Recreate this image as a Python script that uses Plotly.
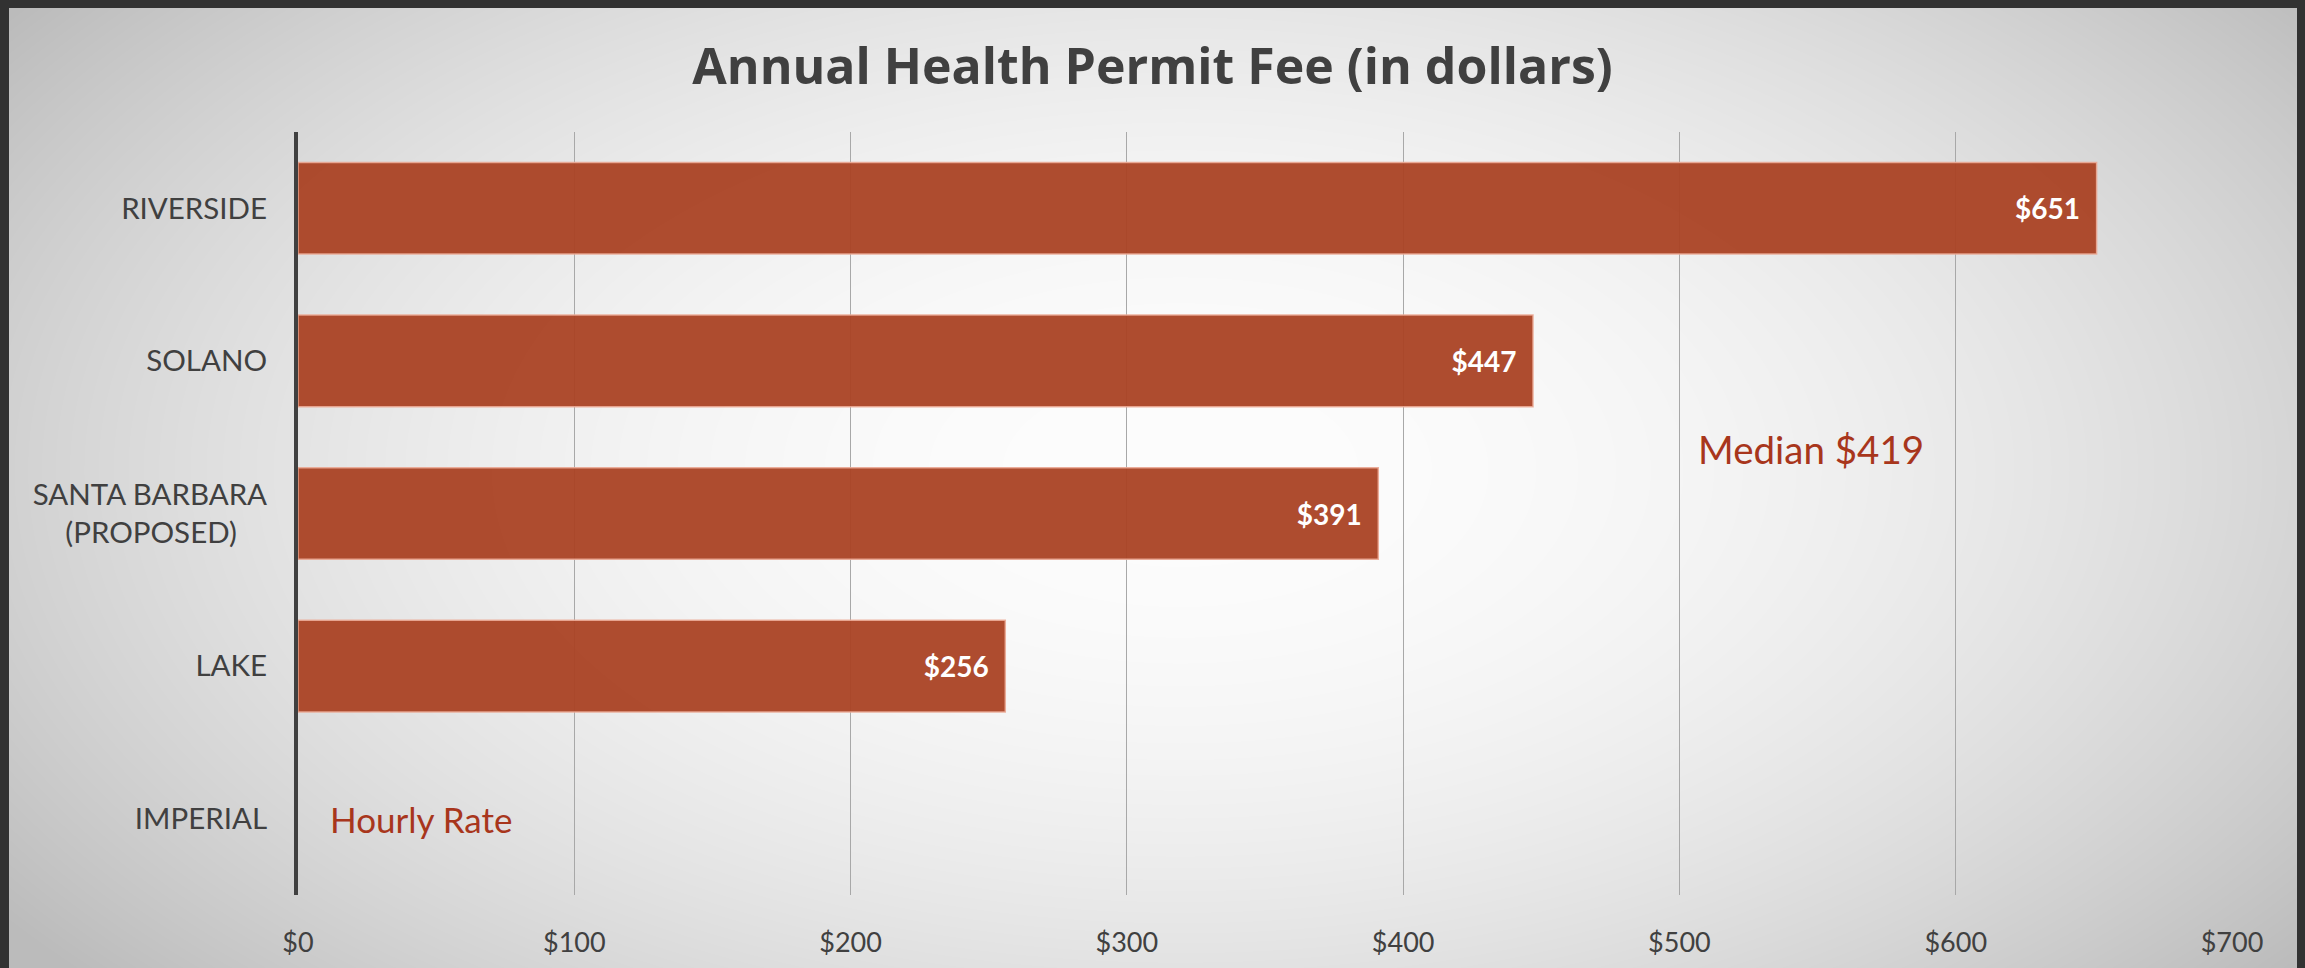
import base64, struct, zlib
import numpy as np
import plotly.graph_objects as go

# ---------------- data ----------------
categories = ["RIVERSIDE", "SOLANO", "SANTA BARBARA<br>(PROPOSED)", "LAKE", "IMPERIAL"]
fees = [651, 447, 391, 256, None]
tick_values = [0, 100, 200, 300, 400, 500, 600, 700]
tick_labels = ["$0", "$100", "$200", "$300", "$400", "$500", "$600", "$700"]
title_text = "Annual Health Permit Fee (in dollars)"
median_note = "Median $419"
imperial_note = "Hourly Rate"

# ---------------- figure geometry ----------------
W, H = 2305, 968
ML, MR, MT, MB = 298, 73, 132, 73
PW, PH = W - ML - MR, H - MT - MB

# ---------------- background (radial gradient + dark frame) ----------------
def make_bg_png():
    yy, xx = np.mgrid[0:H, 0:W].astype(np.float64)
    cx, cy, rx, ry = 1180.0, 470.0, 1400.0, 760.0
    r2 = ((xx - cx) / rx) ** 2 + ((yy - cy) / ry) ** 2
    v = 253.0 - 62.0 * np.clip(r2, 0, 1.05)
    img = np.clip(v, 0, 255).astype(np.uint8)
    img[:8, :] = 50
    img[:, :9] = 50
    img[:, W - 8:] = 50
    diff = img.astype(np.int16)
    sub = np.empty_like(diff)
    sub[:, 0] = diff[:, 0]
    sub[:, 1:] = diff[:, 1:] - diff[:, :-1]
    sub = (sub % 256).astype(np.uint8)
    rows = np.hstack([np.ones((H, 1), dtype=np.uint8), sub])
    raw = rows.tobytes()

    def chunk(tag, data):
        c = struct.pack(">I", len(data)) + tag + data
        return c + struct.pack(">I", zlib.crc32(tag + data) & 0xFFFFFFFF)

    png = b"\x89PNG\r\n\x1a\n"
    png += chunk(b"IHDR", struct.pack(">IIBBBBB", W, H, 8, 0, 0, 0, 0))
    png += chunk(b"IDAT", zlib.compress(raw, 9))
    png += chunk(b"IEND", b"")
    return "data:image/png;base64," + base64.b64encode(png).decode()

bg = make_bg_png()

# tick label display (center second line of the multi-line label)
display_labels = [c if "<br>" not in c else c + "\u00a0" * 4 for c in categories]

fig = go.Figure()
fig.add_trace(go.Bar(
    x=fees,
    y=categories,
    orientation="h",
    marker=dict(color="rgba(170,66,36,0.95)",
                line=dict(color="rgba(235,170,150,0.9)", width=1.5)),
    width=0.6,
    text=[f"${v}\u00a0\u00a0" if v is not None else "" for v in fees],
    textposition="inside",
    insidetextanchor="end",
    textfont=dict(family="Lato, Open Sans, sans-serif", size=28, color="white", weight="bold"),
    cliponaxis=False,
    hoverinfo="skip",
))

fig.update_layout(
    width=W, height=H,
    margin=dict(l=ML, r=MR, t=MT, b=MB, autoexpand=False),
    paper_bgcolor="white",
    plot_bgcolor="rgba(0,0,0,0)",
    showlegend=False,
    title=dict(text=title_text, x=0.5, xref="container", xanchor="center",
               y=1 - 66 / H, yref="container", yanchor="middle",
               font=dict(family="Open Sans, sans-serif",
                         size=50, color="#404040", weight="bold")),
    images=[dict(source=bg, xref="paper", yref="paper",
                 x=-ML / PW, y=1 + MT / PH, sizex=W / PW, sizey=H / PH,
                 xanchor="left", yanchor="top", sizing="stretch", layer="below")],
    xaxis=dict(range=[0, 700], tickvals=tick_values, ticktext=tick_labels,
               showgrid=True, gridcolor="#a8a8a8", gridwidth=1.3,
               zeroline=False, showline=False, ticks="",
               ticklabelstandoff=29,
               tickfont=dict(family="Lato, Open Sans, sans-serif", size=27, color="#404040")),
    yaxis=dict(categoryorder="array", categoryarray=categories, autorange="reversed",
               tickvals=categories, ticktext=display_labels,
               showline=True, linecolor="#404040", linewidth=4,
               showgrid=False, zeroline=False, ticks="",
               ticklabelstandoff=21,
               tickfont=dict(family="Lato, Open Sans, sans-serif", size=29.5, color="#404040")),
    annotations=[
        dict(text=median_note, x=506, y=1.575, xref="x", yref="y",
             xanchor="left", yanchor="middle", showarrow=False,
             font=dict(family="Lato, Open Sans, sans-serif", size=38.5, color="#A8361C")),
        dict(text=imperial_note, x=11, y=4, xref="x", yref="y",
             xanchor="left", yanchor="middle", showarrow=False,
             font=dict(family="Lato, Open Sans, sans-serif", size=35, color="#A8361C")),
    ],
)

fig.write_html("out.html")
